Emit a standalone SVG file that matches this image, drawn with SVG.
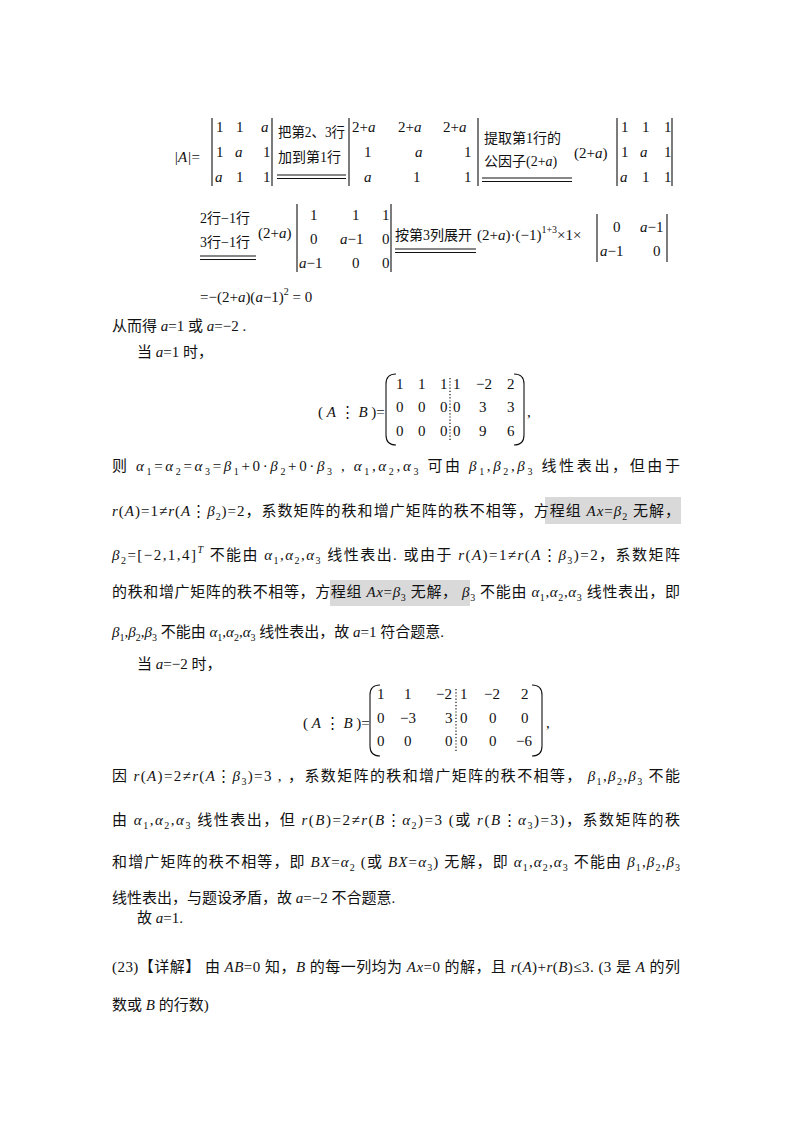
<svg xmlns="http://www.w3.org/2000/svg" width="800" height="1132" viewBox="0 0 800 1132">
<style>
text{font-family:"Liberation Serif","Noto Sans CJK SC",serif;font-size:15px;fill:#111}
.i{font-style:italic}
.s{font-size:10px}
.l{font-size:14px}
.bar{stroke:#111;stroke-width:1.1;fill:none}
.dot{stroke:#111;stroke-width:1.2;stroke-dasharray:1.2 2;fill:none}
.hl{fill:#d9d9d9}
</style>
<rect width="800" height="1132" fill="#fff"/>
<rect class="hl" x="545" y="497" width="136" height="27"/>
<rect class="hl" x="330" y="580" width="140" height="26"/>

<text x="174" y="162"><tspan class="i">|A|</tspan>=</text>
<path class="bar" d="M212 118V186M272 118V186"/>
<text x="216" y="132">1</text><text x="236" y="132">1</text><text x="261" y="132" class="i">a</text>
<text x="216" y="157">1</text><text x="235" y="157" class="i">a</text><text x="263" y="157">1</text>
<text x="215" y="182" class="i">a</text><text x="236" y="182">1</text><text x="263" y="182">1</text>
<text x="278" y="137" class="l" textLength="67" lengthAdjust="spacingAndGlyphs">把第2、3行</text>
<text x="278" y="162" class="l">加到第1行</text>
<path class="bar" d="M277 175H346M277 178.5H346"/>
<path class="bar" d="M349 118V186M478 118V186"/>
<text x="352" y="132">2+<tspan class="i">a</tspan></text><text x="398" y="132">2+<tspan class="i">a</tspan></text><text x="443" y="132">2+<tspan class="i">a</tspan></text>
<text x="364" y="157">1</text><text x="415" y="157" class="i">a</text><text x="464" y="157">1</text>
<text x="364" y="182" class="i">a</text><text x="413" y="182">1</text><text x="464" y="182">1</text>
<text x="484" y="143" class="l">提取第1行的</text>
<text x="484" y="166" class="l">公因子(2+<tspan class="i">a</tspan>)</text>
<path class="bar" d="M482 178H572M482 181.5H572"/>
<text x="574" y="158">(2+<tspan class="i">a</tspan>)</text>
<path class="bar" d="M617 118V186M672 118V186"/>
<text x="621" y="132">1</text><text x="642" y="132">1</text><text x="664" y="132">1</text>
<text x="621" y="157">1</text><text x="640" y="157" class="i">a</text><text x="664" y="157">1</text>
<text x="620" y="182" class="i">a</text><text x="642" y="182">1</text><text x="664" y="182">1</text>

<text x="200" y="223" class="l">2行−1行</text>
<text x="200" y="247" class="l">3行−1行</text>
<path class="bar" d="M200 256H256M200 259.5H256"/>
<text x="258" y="238">(2+<tspan class="i">a</tspan>)</text>
<path class="bar" d="M297 204V272M391 204V272"/>
<text x="310" y="220">1</text><text x="352" y="220">1</text><text x="382" y="220">1</text>
<text x="310" y="244">0</text><text x="340" y="244"><tspan class="i">a</tspan>−1</text><text x="382" y="244">0</text>
<text x="299" y="268"><tspan class="i">a</tspan>−1</text><text x="352" y="268">0</text><text x="382" y="268">0</text>
<text x="395" y="240" class="l">按第3列展开</text>
<path class="bar" d="M395 249H476M395 252.5H476"/>
<text x="477" y="240">(2+<tspan class="i">a</tspan>)·(−1)<tspan class="s" dy="-7">1+3</tspan><tspan dy="7">×1×</tspan></text>
<path class="bar" d="M597 214V262M667 214V262"/>
<text x="613" y="232">0</text><text x="640" y="232"><tspan class="i">a</tspan>−1</text>
<text x="600" y="256"><tspan class="i">a</tspan>−1</text><text x="653" y="256">0</text>

<text x="200" y="302">=−(2+<tspan class="i">a</tspan>)(<tspan class="i">a</tspan>−1)<tspan class="s" dy="-7">2</tspan><tspan dy="7"> = 0</tspan></text>
<text x="112" y="331">从而得 <tspan class="i">a</tspan>=1 或 <tspan class="i">a</tspan>=−2 .</text>
<text x="137" y="357">当 <tspan class="i">a</tspan>=1 时，</text>

<text x="318" y="417">( <tspan class="i">A</tspan> ⋮ <tspan class="i">B</tspan> )=</text>
<path class="bar" d="M396 374Q386 374 386 384V435Q386 445 396 445"/>
<path class="bar" d="M514 374Q524 374 524 384V435Q524 445 514 445"/>
<path class="dot" d="M450 378V441"/>
<text x="396" y="389">1</text><text x="418" y="389">1</text><text x="440" y="389">1</text><text x="453" y="389">1</text><text x="476" y="389">−2</text><text x="507" y="389">2</text>
<text x="396" y="412">0</text><text x="418" y="412">0</text><text x="440" y="412">0</text><text x="453" y="412">0</text><text x="479" y="412">3</text><text x="507" y="412">3</text>
<text x="396" y="436">0</text><text x="418" y="436">0</text><text x="440" y="436">0</text><text x="453" y="436">0</text><text x="479" y="436">9</text><text x="507" y="436">6</text>
<text x="527" y="417">,</text>

<text x="112" y="471" textLength="568" lengthAdjust="spacing">则 <tspan class="i">α</tspan><tspan class="s" dy="4">1</tspan><tspan dy="-4">=</tspan><tspan class="i">α</tspan><tspan class="s" dy="4">2</tspan><tspan dy="-4">=</tspan><tspan class="i">α</tspan><tspan class="s" dy="4">3</tspan><tspan dy="-4">=</tspan><tspan class="i">β</tspan><tspan class="s" dy="4">1</tspan><tspan dy="-4">+0·</tspan><tspan class="i">β</tspan><tspan class="s" dy="4">2</tspan><tspan dy="-4">+0·</tspan><tspan class="i">β</tspan><tspan class="s" dy="4">3</tspan><tspan dy="-4"> ,  </tspan><tspan class="i">α</tspan><tspan class="s" dy="4">1</tspan><tspan dy="-4">,</tspan><tspan class="i">α</tspan><tspan class="s" dy="4">2</tspan><tspan dy="-4">,</tspan><tspan class="i">α</tspan><tspan class="s" dy="4">3</tspan><tspan dy="-4"> 可由 </tspan><tspan class="i">β</tspan><tspan class="s" dy="4">1</tspan><tspan dy="-4">,</tspan><tspan class="i">β</tspan><tspan class="s" dy="4">2</tspan><tspan dy="-4">,</tspan><tspan class="i">β</tspan><tspan class="s" dy="4">3</tspan><tspan dy="-4"> 线性表出，但由于</tspan></text>

<text x="112" y="516" textLength="568" lengthAdjust="spacing"><tspan class="i">r</tspan>(<tspan class="i">A</tspan>)=1≠<tspan class="i">r</tspan>(<tspan class="i">A</tspan>⋮<tspan class="i">β</tspan><tspan class="s" dy="4">2</tspan><tspan dy="-4">)=2，系数矩阵的秩和增广矩阵的秩不相等，方程组 </tspan><tspan class="i">Ax</tspan>=<tspan class="i">β</tspan><tspan class="s" dy="4">2</tspan><tspan dy="-4"> 无解，</tspan></text>

<text x="112" y="560" textLength="568" lengthAdjust="spacing"><tspan class="i">β</tspan><tspan class="s" dy="4">2</tspan><tspan dy="-4">=[−2,1,4]</tspan><tspan class="s i" dy="-7">T</tspan><tspan dy="7"> 不能由 </tspan><tspan class="i">α</tspan><tspan class="s" dy="4">1</tspan><tspan dy="-4">,</tspan><tspan class="i">α</tspan><tspan class="s" dy="4">2</tspan><tspan dy="-4">,</tspan><tspan class="i">α</tspan><tspan class="s" dy="4">3</tspan><tspan dy="-4"> 线性表出. 或由于 </tspan><tspan class="i">r</tspan>(<tspan class="i">A</tspan>)=1≠<tspan class="i">r</tspan>(<tspan class="i">A</tspan>⋮<tspan class="i">β</tspan><tspan class="s" dy="4">3</tspan><tspan dy="-4">)=2，系数矩阵</tspan></text>

<text x="112" y="597" textLength="568" lengthAdjust="spacing">的秩和增广矩阵的秩不相等，方程组 <tspan class="i">Ax</tspan>=<tspan class="i">β</tspan><tspan class="s" dy="4">3</tspan><tspan dy="-4"> 无解， </tspan><tspan class="i">β</tspan><tspan class="s" dy="4">3</tspan><tspan dy="-4"> 不能由 </tspan><tspan class="i">α</tspan><tspan class="s" dy="4">1</tspan><tspan dy="-4">,</tspan><tspan class="i">α</tspan><tspan class="s" dy="4">2</tspan><tspan dy="-4">,</tspan><tspan class="i">α</tspan><tspan class="s" dy="4">3</tspan><tspan dy="-4"> 线性表出，即</tspan></text>

<text x="112" y="637"><tspan class="i">β</tspan><tspan class="s" dy="4">1</tspan><tspan dy="-4">,</tspan><tspan class="i">β</tspan><tspan class="s" dy="4">2</tspan><tspan dy="-4">,</tspan><tspan class="i">β</tspan><tspan class="s" dy="4">3</tspan><tspan dy="-4"> 不能由 </tspan><tspan class="i">α</tspan><tspan class="s" dy="4">1</tspan><tspan dy="-4">,</tspan><tspan class="i">α</tspan><tspan class="s" dy="4">2</tspan><tspan dy="-4">,</tspan><tspan class="i">α</tspan><tspan class="s" dy="4">3</tspan><tspan dy="-4"> 线性表出，故 </tspan><tspan class="i">a</tspan>=1 符合题意.</text>

<text x="137" y="669">当 <tspan class="i">a</tspan>=−2 时，</text>

<text x="303" y="728">( <tspan class="i">A</tspan> ⋮ <tspan class="i">B</tspan> )=</text>
<path class="bar" d="M380 685Q370 685 370 695V746Q370 756 380 756"/>
<path class="bar" d="M532 685Q542 685 542 695V746Q542 756 532 756"/>
<path class="dot" d="M456 689V752"/>
<text x="377" y="699">1</text><text x="404" y="699">1</text><text x="436" y="699">−2</text><text x="460" y="699">1</text><text x="484" y="699">−2</text><text x="521" y="699">2</text>
<text x="377" y="723">0</text><text x="400" y="723">−3</text><text x="445" y="723">3</text><text x="460" y="723">0</text><text x="489" y="723">0</text><text x="521" y="723">0</text>
<text x="377" y="746">0</text><text x="404" y="746">0</text><text x="445" y="746">0</text><text x="460" y="746">0</text><text x="489" y="746">0</text><text x="516" y="746">−6</text>
<text x="546" y="728">,</text>

<text x="112" y="781" textLength="568" lengthAdjust="spacing">因 <tspan class="i">r</tspan>(<tspan class="i">A</tspan>)=2≠<tspan class="i">r</tspan>(<tspan class="i">A</tspan>⋮<tspan class="i">β</tspan><tspan class="s" dy="4">3</tspan><tspan dy="-4">)=3 , ，系数矩阵的秩和增广矩阵的秩不相等， </tspan><tspan class="i">β</tspan><tspan class="s" dy="4">1</tspan><tspan dy="-4">,</tspan><tspan class="i">β</tspan><tspan class="s" dy="4">2</tspan><tspan dy="-4">,</tspan><tspan class="i">β</tspan><tspan class="s" dy="4">3</tspan><tspan dy="-4"> 不能</tspan></text>

<text x="112" y="825" textLength="568" lengthAdjust="spacing">由 <tspan class="i">α</tspan><tspan class="s" dy="4">1</tspan><tspan dy="-4">,</tspan><tspan class="i">α</tspan><tspan class="s" dy="4">2</tspan><tspan dy="-4">,</tspan><tspan class="i">α</tspan><tspan class="s" dy="4">3</tspan><tspan dy="-4"> 线性表出，但 </tspan><tspan class="i">r</tspan>(<tspan class="i">B</tspan>)=2≠<tspan class="i">r</tspan>(<tspan class="i">B</tspan>⋮<tspan class="i">α</tspan><tspan class="s" dy="4">2</tspan><tspan dy="-4">)=3 (或 </tspan><tspan class="i">r</tspan>(<tspan class="i">B</tspan>⋮<tspan class="i">α</tspan><tspan class="s" dy="4">3</tspan><tspan dy="-4">)=3)，系数矩阵的秩</tspan></text>

<text x="112" y="867" textLength="568" lengthAdjust="spacing">和增广矩阵的秩不相等，即 <tspan class="i">BX</tspan>=<tspan class="i">α</tspan><tspan class="s" dy="4">2</tspan><tspan dy="-4"> (或 </tspan><tspan class="i">BX</tspan>=<tspan class="i">α</tspan><tspan class="s" dy="4">3</tspan><tspan dy="-4">) 无解，即 </tspan><tspan class="i">α</tspan><tspan class="s" dy="4">1</tspan><tspan dy="-4">,</tspan><tspan class="i">α</tspan><tspan class="s" dy="4">2</tspan><tspan dy="-4">,</tspan><tspan class="i">α</tspan><tspan class="s" dy="4">3</tspan><tspan dy="-4"> 不能由 </tspan><tspan class="i">β</tspan><tspan class="s" dy="4">1</tspan><tspan dy="-4">,</tspan><tspan class="i">β</tspan><tspan class="s" dy="4">2</tspan><tspan dy="-4">,</tspan><tspan class="i">β</tspan><tspan class="s" dy="4">3</tspan></text>

<text x="112" y="903">线性表出，与题设矛盾，故 <tspan class="i">a</tspan>=−2 不合题意.</text>
<text x="137" y="923">故 <tspan class="i">a</tspan>=1.</text>

<text x="112" y="972" textLength="568" lengthAdjust="spacing">(23)【详解】 由 <tspan class="i">AB</tspan>=0 知，<tspan class="i">B</tspan> 的每一列均为 <tspan class="i">Ax</tspan>=0 的解，且 <tspan class="i">r</tspan>(<tspan class="i">A</tspan>)+<tspan class="i">r</tspan>(<tspan class="i">B</tspan>)≤3. (3 是 <tspan class="i">A</tspan> 的列</text>
<text x="112" y="1010">数或 <tspan class="i">B</tspan> 的行数)</text>
</svg>
